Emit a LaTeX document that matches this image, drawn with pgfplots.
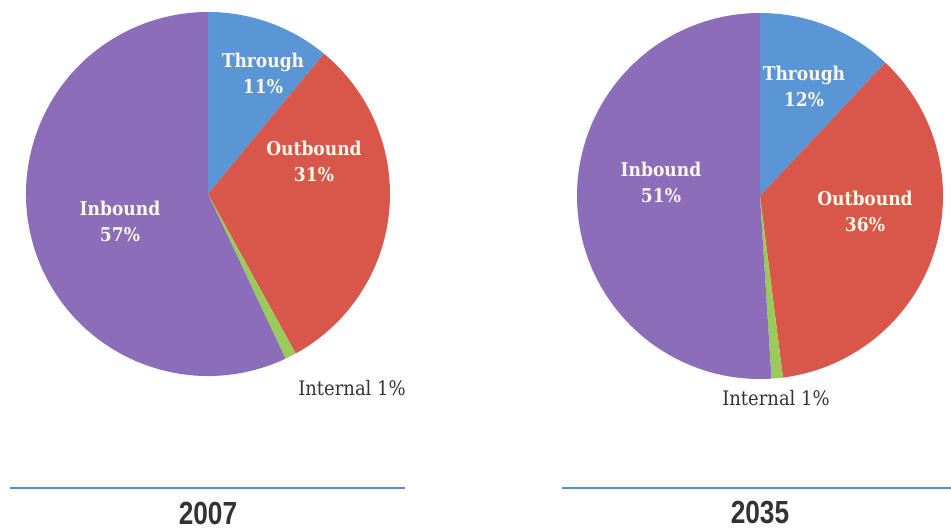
\documentclass[border=0pt]{standalone}
\usepackage{pgfplots}
\usepackage{pgfplotstable}
\usepackage{graphicx}
\usepackage{fontspec}
\pgfplotsset{compat=1.18}
\setmainfont{DejaVu Serif Condensed}
\setsansfont{Liberation Sans}

\definecolor{cThrough}{HTML}{5A96D6}
\definecolor{cOut}{HTML}{D9574A}
\definecolor{cInt}{HTML}{9ACA5A}
\definecolor{cIn}{HTML}{8B6DBA}
\definecolor{lblcol}{HTML}{FFF8EA}
\definecolor{rulecol}{HTML}{5B8FC8}

% shares in percent, clockwise from 12 o'clock
\pgfplotstableread{
label value color
Through 11 cThrough
Outbound 31 cOut
Internal 1 cInt
Inbound 57 cIn
}\pieA
\pgfplotstableread{
label value color
Through 12 cThrough
Outbound 36 cOut
Internal 1 cInt
Inbound 51 cIn
}\pieB

% #1 table, #2 cx, #3 cy, #4 radius (axis units = pt)
\newcommand\drawpie[4]{%
  \pgfplotstablegetrowsof{#1}%
  \pgfmathtruncatemacro\nrows{\pgfplotsretval-1}%
  \xdef\angstart{90}%
  \foreach \i in {0,...,\nrows}{%
    \pgfplotstablegetelem{\i}{value}\of#1\let\v\pgfplotsretval
    \pgfplotstablegetelem{\i}{color}\of#1\let\c\pgfplotsretval
    \pgfmathsetmacro\angend{\angstart-\v*3.6}%
    \pgfmathsetmacro\px{#2+#4*cos(\angstart)}%
    \pgfmathsetmacro\py{#3+#4*sin(\angstart)}%
    \edef\tmp{\noexpand\fill[\c] (axis cs:#2,#3) -- (axis cs:\px,\py)
      arc[start angle=\angstart, end angle=\angend, radius=#4pt] -- cycle;}%
    \tmp
    \xdef\angstart{\angend}%
  }%
}

\begin{document}
\begin{tikzpicture}
\begin{axis}[
    x=1pt, y=1pt,
    xmin=0, xmax=951, ymin=0, ymax=529,
    hide axis,
    clip=false,
]
\coordinate (ll) at (axis cs:0,0);
\coordinate (ur) at (axis cs:951,529);
\drawpie{\pieA}{208}{335}{182}
\drawpie{\pieB}{760}{333}{183}

\begin{scope}[every node/.style={font=\fontsize{19}{26}\selectfont\bfseries, text=lblcol, align=center}]
\node at (axis cs:263,456) {Through\\11\%};
\node at (axis cs:314,368) {Outbound\\31\%};
\node at (axis cs:120,308) {Inbound\\57\%};
\node at (axis cs:804,443) {Through\\12\%};
\node at (axis cs:661,347) {Inbound\\51\%};
\node at (axis cs:865,318) {Outbound\\36\%};
\end{scope}

\node[font=\fontsize{20}{22}\selectfont, text=black!80] at (axis cs:352,141) {Internal 1\%};
\node[font=\fontsize{20}{22}\selectfont, text=black!80] at (axis cs:776,131) {Internal 1\%};

\draw[rulecol, line width=1.6pt] (axis cs:10,41) -- (axis cs:405,41);
\draw[rulecol, line width=1.6pt] (axis cs:562,41) -- (axis cs:951,41);
\node[font=\sffamily\bfseries\fontsize{32}{33}\selectfont, text=black!80] at (axis cs:208,16)
  {\scalebox{0.82}[1]{2007}};
\node[font=\sffamily\bfseries\fontsize{32}{33}\selectfont, text=black!80] at (axis cs:760,16)
  {\scalebox{0.82}[1]{2035}};
\end{axis}
\pgfresetboundingbox
\path[use as bounding box] (ll) rectangle (ur);
\end{tikzpicture}
\end{document}
